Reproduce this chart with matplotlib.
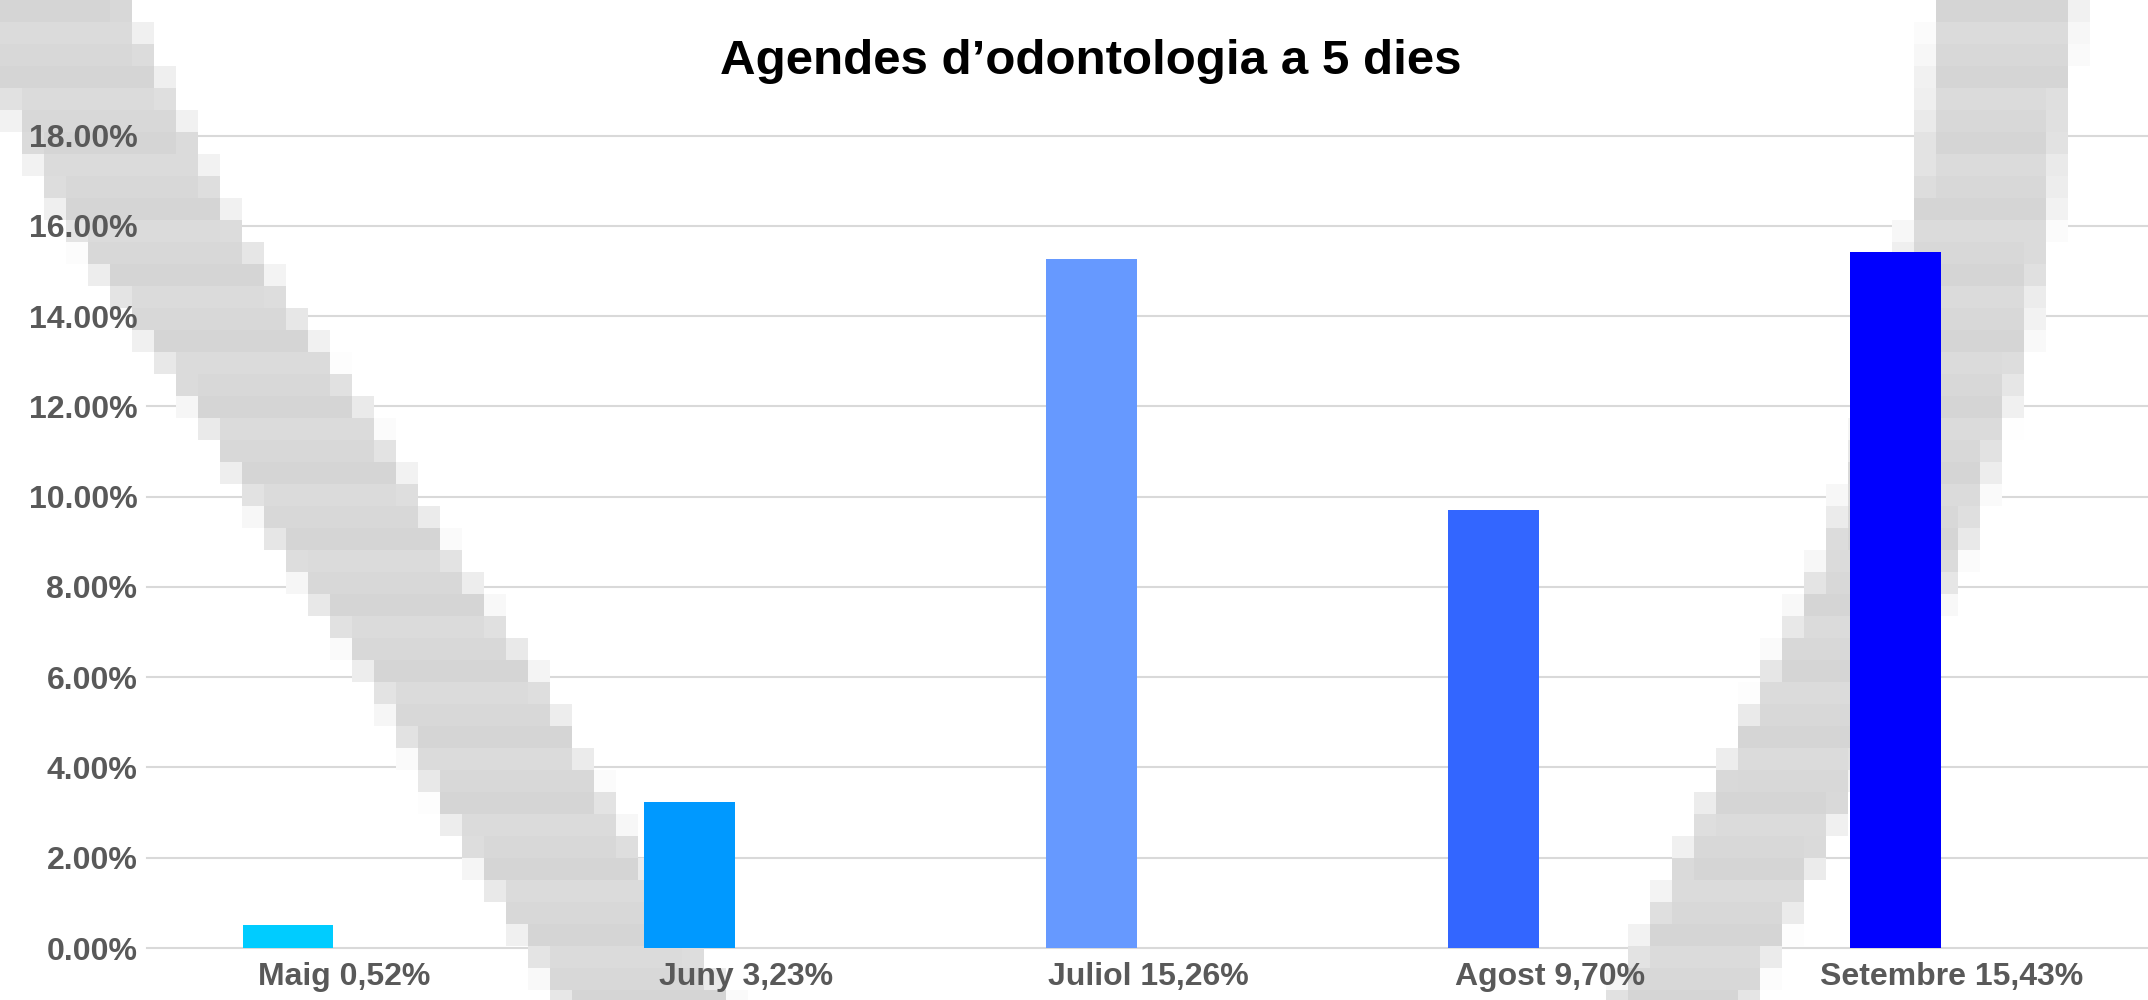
import numpy as np
import matplotlib
matplotlib.use('Agg')
import matplotlib.pyplot as plt
from matplotlib.transforms import Affine2D

# Data
months = ['Maig', 'Juny', 'Juliol', 'Agost', 'Setembre']
values = [0.52, 3.23, 15.26, 9.70, 15.43]
bar_colors = ['#00CCFF', '#0099FF', '#6699FF', '#3366FF', '#0000FF']
y_ticks = [0, 2, 4, 6, 8, 10, 12, 14, 16, 18]
title = 'Agendes d\u2019odontologia a 5 dies'

# Background "V" watermark, in pixel coords (y, centre x) of each arm
left_arm_y = [0, 212, 315, 411, 548, 685, 822, 932, 1000]
left_arm_x = [40, 144, 212, 281, 363, 459, 534, 603, 644]
right_arm_y = [0, 200, 367, 548, 900, 1000]
right_arm_x = [2007, 1985, 1952, 1897, 1730, 1682]

W, H = 2148, 1000
plt.rcParams['font.family'] = ['Liberation Sans', 'DejaVu Sans']

fig = plt.figure(figsize=(W / 100, H / 100), dpi=100)
fig.patch.set_facecolor('white')
ax = fig.add_axes([147 / W, 52 / H, 1 - 147 / W, (948 - 135.6) / H])

# gridlines under the watermark
for t in y_ticks:
    ax.axhline(t, color='#D9D9D9', lw=1.5, zorder=1, clip_on=False)

# pixelated watermark
cell = 22
cols, rows = W // cell + 1, H // cell + 1
xe = np.arange(cols + 1) * cell
ye = np.arange(rows + 1) * cell
xc = (xe[:-1] + xe[1:]) / 2
yc = (ye[:-1] + ye[1:]) / 2
XC, YC = np.meshgrid(xc, yc)
cov = np.zeros_like(XC)
for ay, axx, hw in [(left_arm_y, left_arm_x, 85), (right_arm_y, right_arm_x, 70)]:
    cx = np.interp(YC, ay, axx)
    f = np.clip((hw - np.abs(XC - cx)) / cell + 0.5, 0, 1)
    cov = np.maximum(cov, f)
ii, jj = np.meshgrid(np.arange(cols), np.arange(rows))
shade = 0.835 + 0.012 * ((ii * 3 + jj * 5) % 3)
C = 1 - cov * (1 - shade)
C = np.ma.masked_where(cov < 0.05, C)
pix2fig = Affine2D().scale(1 / W, -1 / H).translate(0, 1) + fig.transFigure
ax.pcolormesh(xe, ye, C, cmap='gray', vmin=0, vmax=1, transform=pix2fig,
              zorder=2, clip_on=False, linewidth=0, antialiased=False)

# bars
x = np.arange(len(months))
ax.bar(x - 0.14, values, width=0.226, color=bar_colors, zorder=3)

ax.set_xlim(-0.491, 4.489)
ax.set_ylim(0, 18)
ax.set_axisbelow(False)
ax.set_yticks(y_ticks)
ax.set_yticklabels([f'{t:.2f}%' for t in y_ticks])
ax.set_xticks(x)
ax.set_xticklabels([f'{m} {v:.2f}%'.replace('.', ',') for m, v in zip(months, values)])
ax.tick_params(axis='y', length=0, pad=7, labelsize=23, labelcolor='#595959')
ax.tick_params(axis='x', length=0, pad=10, labelsize=23, labelcolor='#595959')
for lbl in ax.get_xticklabels() + ax.get_yticklabels():
    lbl.set_fontweight('bold')
for s in ax.spines.values():
    s.set_visible(False)

fig.text(1091 / W, 1 - 62 / H, title, ha='center', va='center',
         fontsize=35.5, fontweight='bold', color='black')

fig.savefig('out.png', dpi=100)
